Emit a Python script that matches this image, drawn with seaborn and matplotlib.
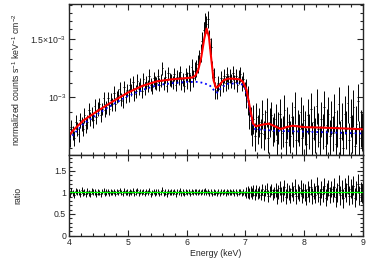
import numpy as np
import matplotlib
matplotlib.use("Agg")
import matplotlib.pyplot as plt
import seaborn as sns
from matplotlib.ticker import FixedLocator, MultipleLocator, NullFormatter, FixedFormatter

# spectrum, 200 bins of 0.025 keV from 4 to 9 keV, flux in units of 1e-4
bin_lo = 4.0
bin_w = 0.025
flux = [
    7.4, 8.1, 7.8, 7.5, 8.4, 8.0, 7.7, 8.5, 8.3, 8.0,
    8.8, 8.2, 8.4, 9.1, 8.6, 8.9, 8.5, 9.4, 8.7, 9.2,
    9.5, 8.8, 9.2, 9.9, 9.1, 9.3, 9.9, 9.2, 9.8, 9.5,
    10.3, 9.5, 10.0, 10.1, 10.6, 9.8, 9.7, 10.7, 10.0, 10.5,
    10.1, 10.9, 10.5, 11.1, 10.2, 10.4, 11.2, 10.6, 10.9, 10.4,
    11.3, 10.6, 11.1, 10.8, 11.6, 10.9, 10.7, 11.4, 11.1, 11.0,
    11.6, 10.9, 11.2, 12.2, 11.0, 11.5, 10.8, 11.8, 11.3, 11.2,
    11.1, 11.7, 10.9, 11.5, 11.4, 11.9, 11.0, 11.3, 10.8, 11.7,
    11.2, 11.8, 11.1, 12.3, 11.4, 12.0, 12.2, 12.6, 13.1, 13.6,
    14.8, 15.9, 16.9, 16.6, 17.2, 15.0, 14.2, 12.1, 11.5, 10.5,
    10.4, 11.0, 10.6, 11.4, 10.9, 11.6, 11.0, 11.7, 11.1, 11.6,
    11.2, 11.8, 11.1, 11.6, 10.9, 11.5, 11.7, 11.0, 11.3, 10.6,
    10.3, 9.8, 8.9, 8.5, 7.9, 8.6, 7.6, 8.7, 8.0, 8.4,
    7.8, 8.9, 7.7, 8.3, 9.0, 7.5, 8.4, 8.8, 7.9, 8.1,
    8.6, 7.4, 8.1, 8.9, 7.8, 7.9, 9.1, 7.3, 8.4, 8.0,
    7.6, 8.7, 7.9, 9.3, 7.4, 8.2, 8.0, 9.0, 7.5, 8.5,
    8.1, 7.2, 8.8, 7.9, 9.2, 7.5, 8.4, 7.7, 9.4, 8.0,
    7.3, 8.6, 7.9, 9.3, 7.1, 8.2, 8.9, 7.6, 8.7, 7.8,
    9.0, 7.2, 8.1, 9.5, 7.5, 8.5, 7.0, 8.9, 8.0, 9.6,
    7.4, 8.7, 7.8, 9.3, 7.1, 8.3, 9.7, 7.5, 8.1, 7.9,
]
ratio = [
    0.97, 1.03, 0.99, 0.95, 1.04, 1.00, 1.02, 0.96, 1.05, 0.98,
    1.01, 0.96, 1.03, 0.99, 0.97, 1.04, 1.00, 1.02, 0.97, 1.01,
    1.00, 0.96, 1.02, 1.04, 0.97, 1.01, 1.03, 0.98, 1.01, 0.99,
    1.03, 0.97, 1.02, 0.99, 1.05, 1.00, 0.97, 1.04, 0.99, 1.01,
    0.98, 1.03, 0.99, 1.04, 0.97, 1.01, 1.05, 0.98, 1.02, 0.99,
    1.02, 0.97, 1.03, 0.99, 1.04, 0.96, 1.00, 1.03, 0.98, 1.01,
    1.02, 0.97, 1.00, 1.06, 0.98, 1.01, 0.96, 1.03, 0.99, 1.01,
    0.99, 1.03, 0.96, 1.02, 1.00, 1.04, 0.98, 1.01, 0.97, 1.02,
    0.99, 1.02, 0.97, 1.03, 0.99, 1.02, 1.01, 0.99, 1.02, 0.99,
    1.02, 1.01, 1.04, 0.99, 1.03, 0.98, 1.02, 0.97, 1.01, 0.99,
    0.98, 1.02, 0.98, 1.02, 0.99, 1.02, 0.98, 1.03, 0.99, 1.01,
    0.99, 1.03, 0.98, 1.02, 0.97, 1.01, 1.03, 0.98, 1.01, 0.98,
    0.99, 1.01, 0.98, 1.02, 0.97, 1.04, 0.95, 1.04, 0.98, 1.01,
    0.95, 1.07, 0.93, 1.04, 1.09, 0.92, 1.02, 1.06, 0.96, 0.99,
    1.06, 0.91, 1.01, 1.10, 0.96, 0.98, 1.12, 0.90, 1.04, 1.00,
    0.93, 1.07, 0.97, 1.14, 0.91, 1.02, 0.98, 1.11, 0.92, 1.05,
    1.00, 0.89, 1.08, 0.97, 1.13, 0.92, 1.03, 0.95, 1.16, 0.98,
    0.90, 1.07, 0.97, 1.15, 0.88, 1.02, 1.10, 0.94, 1.08, 0.96,
    1.12, 0.89, 1.01, 1.18, 0.93, 1.06, 0.87, 1.11, 0.99, 1.19,
    0.92, 1.09, 0.96, 1.16, 0.88, 1.04, 1.20, 0.93, 1.02, 0.98,
]
# fractional errors per 0.5 keV chunk
flux_err = [0.05, 0.045, 0.045, 0.045, 0.06, 0.05, 0.10, 0.11, 0.12, 0.13]
ratio_err = [0.07, 0.06, 0.06, 0.06, 0.06, 0.06, 0.13, 0.17, 0.19, 0.22]

# best-fit model (red) and continuum (blue dotted), units of 1e-4
model_e = [4.0, 4.1, 4.25, 4.5, 4.75, 5.0, 5.25, 5.5, 5.75, 6.0, 6.1, 6.15, 6.2, 6.25,
           6.3, 6.34, 6.38, 6.42, 6.46, 6.5, 6.55, 6.62, 6.7, 6.8, 6.9, 6.96, 7.02,
           7.08, 7.13, 7.18, 7.3, 7.4, 7.5, 7.6, 7.7, 7.8, 8.0, 8.5, 9.0]
model_f = [7.66, 8.02, 8.5, 9.1, 9.7, 10.3, 10.8, 11.15, 11.3, 11.4, 11.45, 11.6, 12.1, 13.2,
           15.0, 16.1, 15.2, 13.0, 11.2, 10.65, 10.8, 11.2, 11.35, 11.35, 11.3, 11.1, 10.5,
           9.2, 8.3, 8.15, 8.25, 8.3, 8.15, 8.0, 8.1, 8.18, 8.1, 8.05, 7.98]
cont_e = [4.0, 4.25, 4.5, 4.75, 5.0, 5.25, 5.5, 5.75, 6.0, 6.2, 6.3, 6.4, 6.47, 6.52,
          6.58, 6.68, 6.9, 6.98, 7.04, 7.1, 7.15, 7.3, 7.5, 8.0, 8.5, 9.0]
cont_f = [7.45, 8.3, 8.9, 9.5, 10.05, 10.5, 10.85, 11.0, 11.1, 11.1, 11.0, 10.8, 10.45, 10.3,
          10.6, 10.95, 11.0, 10.8, 9.9, 8.6, 8.0, 7.95, 7.9, 7.85, 7.8, 7.75]

sns.set_style("ticks")
plt.rcParams['font.family'] = ['Liberation Sans', 'DejaVu Sans']
plt.rcParams['mathtext.fontset'] = 'custom'
plt.rcParams['mathtext.rm'] = 'Liberation Sans'
plt.rcParams['mathtext.it'] = 'Liberation Sans'
fs = 6.3

energy = bin_lo + bin_w * (np.arange(len(flux)) + 0.5)
f = np.array(flux) * 1e-4
fe = f * np.repeat(flux_err, 20)
r = np.array(ratio)
re = np.repeat(ratio_err, 20)

fig = plt.figure(figsize=(3.72, 2.59), dpi=100)
ax1 = fig.add_axes([0.1855, 0.4015, 0.7903, 0.5831])
ax2 = fig.add_axes([0.1855, 0.0907, 0.7903, 0.3108], sharex=ax1)

ax1.errorbar(energy, f, yerr=fe, xerr=bin_w / 2, fmt='none', ecolor='black',
             elinewidth=0.7, capsize=0)
sns.lineplot(x=np.array(cont_e), y=np.array(cont_f) * 1e-4, ax=ax1, color='blue',
             linestyle=':', linewidth=1.3)
sns.lineplot(x=np.array(model_e), y=np.array(model_f) * 1e-4, ax=ax1, color='red',
             linewidth=1.5)
ax1.set_yscale('log')
ax1.set_ylim(6.67e-4, 1.91e-3)
ax1.yaxis.set_major_locator(FixedLocator([1e-3, 1.5e-3]))
ax1.yaxis.set_major_formatter(FixedFormatter(['10$^{-3}$', '1.5×10$^{-3}$']))
ax1.yaxis.set_minor_locator(FixedLocator([7e-4, 8e-4, 9e-4, 1.1e-3, 1.2e-3, 1.3e-3,
                                          1.4e-3, 1.6e-3, 1.7e-3, 1.8e-3, 1.9e-3]))
ax1.yaxis.set_minor_formatter(NullFormatter())
ax1.set_ylabel('normalized counts s$^{-1}$ keV$^{-1}$ cm$^{-2}$', fontsize=fs)
ax1.tick_params(labelbottom=False)

ax2.errorbar(energy, r, yerr=re, xerr=bin_w / 2, fmt='none', ecolor='black',
             elinewidth=0.7, capsize=0)
ax2.axhline(1.0, color='#00ff00', linewidth=0.9)
ax2.set_ylim(0, 1.87)
ax2.yaxis.set_major_locator(FixedLocator([0, 0.5, 1, 1.5]))
ax2.yaxis.set_major_formatter(FixedFormatter(['0', '0.5', '1', '1.5']))
ax2.yaxis.set_minor_locator(MultipleLocator(0.1))
ax2.set_ylabel('ratio', fontsize=fs)
ax2.set_xlabel('Energy (keV)', fontsize=fs, labelpad=1)

ax2.set_xlim(4, 9)
ax2.xaxis.set_major_locator(MultipleLocator(1))
ax2.xaxis.set_minor_locator(MultipleLocator(0.2))

for ax in (ax1, ax2):
    ax.tick_params(which='both', direction='in', top=True, right=True, labelsize=fs,
                   width=0.8, pad=2)
    ax.tick_params(which='major', length=4)
    ax.tick_params(which='minor', length=2)
    for s in ax.spines.values():
        s.set_linewidth(1.0)
    ax.yaxis.set_label_coords(-0.16, 0.5)

fig.savefig('out.png', dpi=100)
